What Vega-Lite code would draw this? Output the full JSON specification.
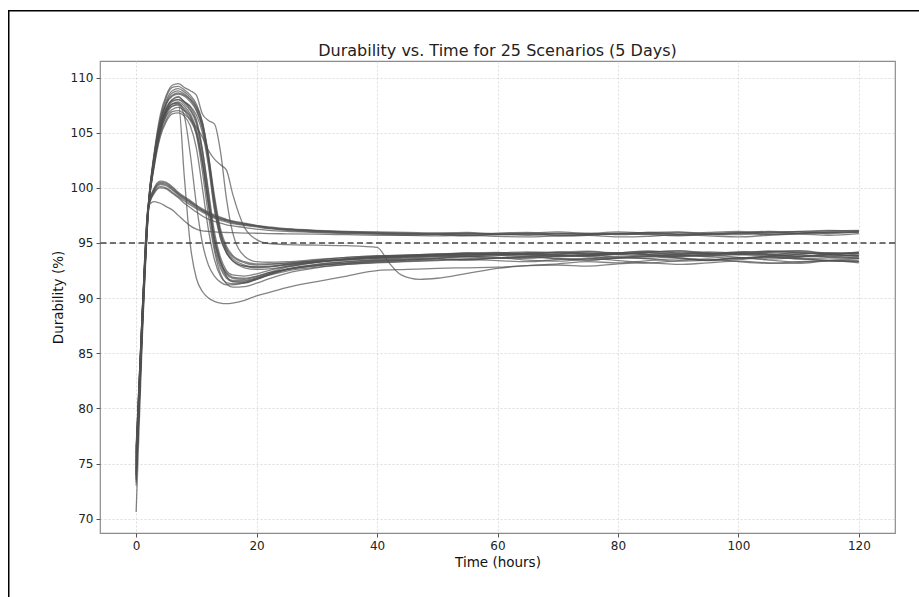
{
"$schema":"https://vega.github.io/schema/vega-lite/v6.json",
"width":795,"height":472,
"autosize":{"type":"none"},
"padding":{"left":100,"top":61,"right":24,"bottom":64},
"background":"white",
"config":{"font":"DejaVu Sans","view":{"stroke":"#8c8c8c","strokeWidth":1.2},
"axis":{"grid":true,"gridColor":"#d4d4d4","gridDash":[2,2],"gridWidth":0.8,"domain":false,"tickColor":"#555555","tickSize":4,"labelFontSize":12,"labelColor":"#222222","titleFontSize":13.5,"titleFontWeight":"normal","titleColor":"#111111","labelPadding":3},
"title":{"fontSize":16,"fontWeight":"normal","color":"#222222","offset":-49.4,"anchor":"middle"}},
"title":"Durability vs. Time for 25 Scenarios (5 Days)",
"datasets":{"curves":[
{"s":"A1","t":0,"v":74.5},{"s":"A1","t":1,"v":88},{"s":"A1","t":2,"v":98.4},{"s":"A1","t":3,"v":103.2},{"s":"A1","t":4,"v":106.6},{"s":"A1","t":5,"v":108.4},{"s":"A1","t":6,"v":109.3},{"s":"A1","t":7,"v":109.45},{"s":"A1","t":8,"v":109.1},{"s":"A1","t":9,"v":108.8},{"s":"A1","t":10,"v":108.4},{"s":"A1","t":11,"v":106.7},{"s":"A1","t":12,"v":106.1},{"s":"A1","t":13,"v":105.8},{"s":"A1","t":14,"v":103.3},{"s":"A1","t":15,"v":99},{"s":"A1","t":16,"v":96},{"s":"A1","t":18,"v":93.8},{"s":"A1","t":20,"v":93.3},{"s":"A1","t":22,"v":93.25},{"s":"A1","t":25,"v":93.3},{"s":"A1","t":30,"v":93.5},{"s":"A1","t":35,"v":93.7},{"s":"A1","t":40,"v":93.8},{"s":"A1","t":45,"v":93.9},{"s":"A1","t":50,"v":93.95},{"s":"A1","t":55,"v":94.1},{"s":"A1","t":60,"v":94.15},{"s":"A1","t":65,"v":94},{"s":"A1","t":70,"v":94.15},{"s":"A1","t":75,"v":94.25},{"s":"A1","t":80,"v":94.05},{"s":"A1","t":85,"v":94.15},{"s":"A1","t":90,"v":94.3},{"s":"A1","t":95,"v":94.1},{"s":"A1","t":100,"v":94},{"s":"A1","t":105,"v":94.2},{"s":"A1","t":110,"v":94.3},{"s":"A1","t":115,"v":94.1},{"s":"A1","t":120,"v":94.1},
{"s":"A2","t":0,"v":74},{"s":"A2","t":1,"v":87.5},{"s":"A2","t":2,"v":98.1},{"s":"A2","t":3,"v":103},{"s":"A2","t":4,"v":106.3},{"s":"A2","t":5,"v":108.2},{"s":"A2","t":6,"v":109.1},{"s":"A2","t":7,"v":109.2},{"s":"A2","t":8,"v":108.9},{"s":"A2","t":9,"v":108.4},{"s":"A2","t":10,"v":107.6},{"s":"A2","t":11,"v":106},{"s":"A2","t":12,"v":103},{"s":"A2","t":13,"v":99},{"s":"A2","t":14,"v":96},{"s":"A2","t":15,"v":94.5},{"s":"A2","t":16,"v":93.8},{"s":"A2","t":18,"v":93.2},{"s":"A2","t":20,"v":93},{"s":"A2","t":22,"v":93.05},{"s":"A2","t":25,"v":93.15},{"s":"A2","t":30,"v":93.35},{"s":"A2","t":35,"v":93.5},{"s":"A2","t":40,"v":93.6},{"s":"A2","t":45,"v":93.7},{"s":"A2","t":50,"v":93.8},{"s":"A2","t":55,"v":93.85},{"s":"A2","t":60,"v":93.95},{"s":"A2","t":65,"v":94},{"s":"A2","t":70,"v":93.9},{"s":"A2","t":75,"v":93.85},{"s":"A2","t":80,"v":94},{"s":"A2","t":85,"v":94.1},{"s":"A2","t":90,"v":93.95},{"s":"A2","t":95,"v":93.8},{"s":"A2","t":100,"v":93.95},{"s":"A2","t":105,"v":94.1},{"s":"A2","t":110,"v":93.95},{"s":"A2","t":115,"v":93.8},{"s":"A2","t":120,"v":93.9},
{"s":"A3","t":0,"v":75},{"s":"A3","t":1,"v":88},{"s":"A3","t":2,"v":98.3},{"s":"A3","t":3,"v":102.8},{"s":"A3","t":4,"v":105.9},{"s":"A3","t":5,"v":107.7},{"s":"A3","t":6,"v":108.6},{"s":"A3","t":7,"v":108.8},{"s":"A3","t":8,"v":108.5},{"s":"A3","t":9,"v":108},{"s":"A3","t":10,"v":107.1},{"s":"A3","t":11,"v":105.4},{"s":"A3","t":12,"v":102.3},{"s":"A3","t":13,"v":98.2},{"s":"A3","t":14,"v":95.4},{"s":"A3","t":15,"v":94.1},{"s":"A3","t":16,"v":93.4},{"s":"A3","t":18,"v":92.9},{"s":"A3","t":20,"v":92.75},{"s":"A3","t":22,"v":92.8},{"s":"A3","t":25,"v":93},{"s":"A3","t":30,"v":93.25},{"s":"A3","t":35,"v":93.45},{"s":"A3","t":40,"v":93.6},{"s":"A3","t":45,"v":93.75},{"s":"A3","t":50,"v":93.8},{"s":"A3","t":55,"v":93.9},{"s":"A3","t":60,"v":94},{"s":"A3","t":65,"v":93.9},{"s":"A3","t":70,"v":93.8},{"s":"A3","t":75,"v":93.95},{"s":"A3","t":80,"v":94.1},{"s":"A3","t":85,"v":93.95},{"s":"A3","t":90,"v":93.8},{"s":"A3","t":95,"v":93.95},{"s":"A3","t":100,"v":94.1},{"s":"A3","t":105,"v":93.95},{"s":"A3","t":110,"v":93.75},{"s":"A3","t":115,"v":93.9},{"s":"A3","t":120,"v":93.8},
{"s":"A4","t":0,"v":73.5},{"s":"A4","t":1,"v":87},{"s":"A4","t":2,"v":97.8},{"s":"A4","t":3,"v":102.5},{"s":"A4","t":4,"v":105.5},{"s":"A4","t":5,"v":107.2},{"s":"A4","t":6,"v":108},{"s":"A4","t":7,"v":108.3},{"s":"A4","t":8,"v":107.8},{"s":"A4","t":9,"v":107.3},{"s":"A4","t":10,"v":106.2},{"s":"A4","t":11,"v":103.5},{"s":"A4","t":12,"v":99.5},{"s":"A4","t":13,"v":95.3},{"s":"A4","t":14,"v":93.3},{"s":"A4","t":15,"v":92.2},{"s":"A4","t":16,"v":91.8},{"s":"A4","t":18,"v":91.7},{"s":"A4","t":20,"v":91.95},{"s":"A4","t":22,"v":92.3},{"s":"A4","t":25,"v":92.8},{"s":"A4","t":30,"v":93.25},{"s":"A4","t":35,"v":93.55},{"s":"A4","t":40,"v":93.7},{"s":"A4","t":45,"v":93.8},{"s":"A4","t":50,"v":93.9},{"s":"A4","t":55,"v":94},{"s":"A4","t":60,"v":94.1},{"s":"A4","t":65,"v":93.95},{"s":"A4","t":70,"v":94},{"s":"A4","t":75,"v":94.2},{"s":"A4","t":80,"v":94.1},{"s":"A4","t":85,"v":93.95},{"s":"A4","t":90,"v":94.05},{"s":"A4","t":95,"v":94.2},{"s":"A4","t":100,"v":94.05},{"s":"A4","t":105,"v":93.9},{"s":"A4","t":110,"v":94.1},{"s":"A4","t":115,"v":94},{"s":"A4","t":120,"v":93.85},
{"s":"A5","t":0,"v":76},{"s":"A5","t":1,"v":88.5},{"s":"A5","t":2,"v":98.2},{"s":"A5","t":3,"v":102.6},{"s":"A5","t":4,"v":105.4},{"s":"A5","t":5,"v":107},{"s":"A5","t":6,"v":107.8},{"s":"A5","t":7,"v":108},{"s":"A5","t":8,"v":107.6},{"s":"A5","t":9,"v":107},{"s":"A5","t":10,"v":105.8},{"s":"A5","t":11,"v":103},{"s":"A5","t":12,"v":99},{"s":"A5","t":13,"v":95},{"s":"A5","t":14,"v":93},{"s":"A5","t":15,"v":91.95},{"s":"A5","t":16,"v":91.6},{"s":"A5","t":18,"v":91.6},{"s":"A5","t":20,"v":91.85},{"s":"A5","t":22,"v":92.2},{"s":"A5","t":25,"v":92.6},{"s":"A5","t":30,"v":93.05},{"s":"A5","t":35,"v":93.3},{"s":"A5","t":40,"v":93.5},{"s":"A5","t":45,"v":93.65},{"s":"A5","t":50,"v":93.75},{"s":"A5","t":55,"v":93.75},{"s":"A5","t":60,"v":93.85},{"s":"A5","t":65,"v":93.95},{"s":"A5","t":70,"v":93.75},{"s":"A5","t":75,"v":93.85},{"s":"A5","t":80,"v":94.05},{"s":"A5","t":85,"v":93.95},{"s":"A5","t":90,"v":93.75},{"s":"A5","t":95,"v":93.85},{"s":"A5","t":100,"v":94.05},{"s":"A5","t":105,"v":93.9},{"s":"A5","t":110,"v":93.75},{"s":"A5","t":115,"v":93.95},{"s":"A5","t":120,"v":93.75},
{"s":"A6","t":0,"v":74.8},{"s":"A6","t":1,"v":87.8},{"s":"A6","t":2,"v":98},{"s":"A6","t":3,"v":102.4},{"s":"A6","t":4,"v":105.2},{"s":"A6","t":5,"v":106.8},{"s":"A6","t":6,"v":107.6},{"s":"A6","t":7,"v":107.8},{"s":"A6","t":8,"v":107.4},{"s":"A6","t":9,"v":106.7},{"s":"A6","t":10,"v":105.3},{"s":"A6","t":11,"v":102.4},{"s":"A6","t":12,"v":98.4},{"s":"A6","t":13,"v":94.6},{"s":"A6","t":14,"v":92.7},{"s":"A6","t":15,"v":91.8},{"s":"A6","t":16,"v":91.5},{"s":"A6","t":18,"v":91.5},{"s":"A6","t":20,"v":91.75},{"s":"A6","t":22,"v":92.1},{"s":"A6","t":25,"v":92.55},{"s":"A6","t":30,"v":92.95},{"s":"A6","t":35,"v":93.2},{"s":"A6","t":40,"v":93.4},{"s":"A6","t":45,"v":93.5},{"s":"A6","t":50,"v":93.6},{"s":"A6","t":55,"v":93.8},{"s":"A6","t":60,"v":93.7},{"s":"A6","t":65,"v":93.6},{"s":"A6","t":70,"v":93.8},{"s":"A6","t":75,"v":93.9},{"s":"A6","t":80,"v":93.7},{"s":"A6","t":85,"v":93.6},{"s":"A6","t":90,"v":93.8},{"s":"A6","t":95,"v":93.9},{"s":"A6","t":100,"v":93.7},{"s":"A6","t":105,"v":93.55},{"s":"A6","t":110,"v":93.7},{"s":"A6","t":115,"v":93.8},{"s":"A6","t":120,"v":93.6},
{"s":"A7","t":0,"v":73},{"s":"A7","t":1,"v":86.5},{"s":"A7","t":2,"v":97.6},{"s":"A7","t":3,"v":102.2},{"s":"A7","t":4,"v":105},{"s":"A7","t":5,"v":106.5},{"s":"A7","t":6,"v":107.1},{"s":"A7","t":7,"v":107.3},{"s":"A7","t":8,"v":107},{"s":"A7","t":9,"v":106.4},{"s":"A7","t":10,"v":104.8},{"s":"A7","t":11,"v":101.5},{"s":"A7","t":12,"v":97.5},{"s":"A7","t":13,"v":94.3},{"s":"A7","t":14,"v":92.2},{"s":"A7","t":15,"v":91.3},{"s":"A7","t":16,"v":91},{"s":"A7","t":18,"v":91.05},{"s":"A7","t":20,"v":91.35},{"s":"A7","t":22,"v":91.75},{"s":"A7","t":25,"v":92.25},{"s":"A7","t":30,"v":92.75},{"s":"A7","t":35,"v":93.05},{"s":"A7","t":40,"v":93.25},{"s":"A7","t":45,"v":93.35},{"s":"A7","t":50,"v":93.45},{"s":"A7","t":55,"v":93.55},{"s":"A7","t":60,"v":93.65},{"s":"A7","t":65,"v":93.45},{"s":"A7","t":70,"v":93.35},{"s":"A7","t":75,"v":93.55},{"s":"A7","t":80,"v":93.75},{"s":"A7","t":85,"v":93.55},{"s":"A7","t":90,"v":93.35},{"s":"A7","t":95,"v":93.45},{"s":"A7","t":100,"v":93.65},{"s":"A7","t":105,"v":93.45},{"s":"A7","t":110,"v":93.25},{"s":"A7","t":115,"v":93.4},{"s":"A7","t":120,"v":93.3},
{"s":"A8","t":0,"v":75.5},{"s":"A8","t":1,"v":88},{"s":"A8","t":2,"v":97.9},{"s":"A8","t":3,"v":102},{"s":"A8","t":4,"v":104.8},{"s":"A8","t":5,"v":106.2},{"s":"A8","t":6,"v":106.9},{"s":"A8","t":7,"v":107},{"s":"A8","t":8,"v":106.7},{"s":"A8","t":9,"v":106.1},{"s":"A8","t":10,"v":104.9},{"s":"A8","t":11,"v":102.2},{"s":"A8","t":12,"v":98.5},{"s":"A8","t":13,"v":95.3},{"s":"A8","t":14,"v":93.3},{"s":"A8","t":15,"v":92.3},{"s":"A8","t":16,"v":91.9},{"s":"A8","t":18,"v":91.8},{"s":"A8","t":20,"v":92},{"s":"A8","t":22,"v":92.3},{"s":"A8","t":25,"v":92.6},{"s":"A8","t":30,"v":92.95},{"s":"A8","t":35,"v":93.15},{"s":"A8","t":40,"v":93.35},{"s":"A8","t":45,"v":93.45},{"s":"A8","t":50,"v":93.55},{"s":"A8","t":55,"v":93.45},{"s":"A8","t":60,"v":93.65},{"s":"A8","t":65,"v":93.75},{"s":"A8","t":70,"v":93.55},{"s":"A8","t":75,"v":93.45},{"s":"A8","t":80,"v":93.65},{"s":"A8","t":85,"v":93.85},{"s":"A8","t":90,"v":93.65},{"s":"A8","t":95,"v":93.45},{"s":"A8","t":100,"v":93.65},{"s":"A8","t":105,"v":93.75},{"s":"A8","t":110,"v":93.55},{"s":"A8","t":115,"v":93.45},{"s":"A8","t":120,"v":93.55},
{"s":"A9","t":0,"v":74.2},{"s":"A9","t":1,"v":87.2},{"s":"A9","t":2,"v":97.7},{"s":"A9","t":3,"v":101.9},{"s":"A9","t":4,"v":104.6},{"s":"A9","t":5,"v":106},{"s":"A9","t":6,"v":106.7},{"s":"A9","t":7,"v":106.8},{"s":"A9","t":8,"v":106.5},{"s":"A9","t":9,"v":105.6},{"s":"A9","t":10,"v":103.6},{"s":"A9","t":11,"v":100},{"s":"A9","t":12,"v":96.2},{"s":"A9","t":13,"v":93.5},{"s":"A9","t":14,"v":92},{"s":"A9","t":15,"v":91.4},{"s":"A9","t":16,"v":91.3},{"s":"A9","t":18,"v":91.35},{"s":"A9","t":20,"v":91.7},{"s":"A9","t":22,"v":92.05},{"s":"A9","t":25,"v":92.45},{"s":"A9","t":30,"v":92.8},{"s":"A9","t":35,"v":93.05},{"s":"A9","t":40,"v":93.2},{"s":"A9","t":45,"v":93.3},{"s":"A9","t":50,"v":93.4},{"s":"A9","t":55,"v":93.5},{"s":"A9","t":60,"v":93.4},{"s":"A9","t":65,"v":93.3},{"s":"A9","t":70,"v":93.5},{"s":"A9","t":75,"v":93.6},{"s":"A9","t":80,"v":93.4},{"s":"A9","t":85,"v":93.2},{"s":"A9","t":90,"v":93.4},{"s":"A9","t":95,"v":93.55},{"s":"A9","t":100,"v":93.3},{"s":"A9","t":105,"v":93.15},{"s":"A9","t":110,"v":93.3},{"s":"A9","t":115,"v":93.4},{"s":"A9","t":120,"v":93.2},
{"s":"A10","t":0,"v":75.2},{"s":"A10","t":1,"v":88.2},{"s":"A10","t":2,"v":98.1},{"s":"A10","t":3,"v":102.9},{"s":"A10","t":4,"v":105.9},{"s":"A10","t":5,"v":107.6},{"s":"A10","t":6,"v":108.3},{"s":"A10","t":7,"v":108.5},{"s":"A10","t":8,"v":108.3},{"s":"A10","t":9,"v":107.8},{"s":"A10","t":10,"v":107},{"s":"A10","t":11,"v":105.5},{"s":"A10","t":12,"v":102.6},{"s":"A10","t":13,"v":98.6},{"s":"A10","t":14,"v":95.8},{"s":"A10","t":15,"v":94.2},{"s":"A10","t":16,"v":93.4},{"s":"A10","t":18,"v":92.75},{"s":"A10","t":20,"v":92.6},{"s":"A10","t":22,"v":92.65},{"s":"A10","t":25,"v":92.85},{"s":"A10","t":30,"v":93.25},{"s":"A10","t":35,"v":93.55},{"s":"A10","t":40,"v":93.8},{"s":"A10","t":45,"v":93.9},{"s":"A10","t":50,"v":94},{"s":"A10","t":55,"v":94.1},{"s":"A10","t":60,"v":94},{"s":"A10","t":65,"v":94.1},{"s":"A10","t":70,"v":94.2},{"s":"A10","t":75,"v":94},{"s":"A10","t":80,"v":94.1},{"s":"A10","t":85,"v":94.25},{"s":"A10","t":90,"v":94.1},{"s":"A10","t":95,"v":94},{"s":"A10","t":100,"v":94.15},{"s":"A10","t":105,"v":94.25},{"s":"A10","t":110,"v":94.1},{"s":"A10","t":115,"v":94},{"s":"A10","t":120,"v":94.15},
{"s":"A11","t":0,"v":73.8},{"s":"A11","t":1,"v":87.3},{"s":"A11","t":2,"v":97.9},{"s":"A11","t":3,"v":102.5},{"s":"A11","t":4,"v":105.4},{"s":"A11","t":5,"v":107.1},{"s":"A11","t":6,"v":107.9},{"s":"A11","t":7,"v":108},{"s":"A11","t":8,"v":107.8},{"s":"A11","t":9,"v":107.4},{"s":"A11","t":10,"v":106.6},{"s":"A11","t":11,"v":105},{"s":"A11","t":12,"v":102},{"s":"A11","t":13,"v":98},{"s":"A11","t":14,"v":95.5},{"s":"A11","t":15,"v":94.1},{"s":"A11","t":16,"v":93.4},{"s":"A11","t":18,"v":92.9},{"s":"A11","t":20,"v":92.85},{"s":"A11","t":22,"v":92.9},{"s":"A11","t":25,"v":93.05},{"s":"A11","t":30,"v":93.3},{"s":"A11","t":35,"v":93.5},{"s":"A11","t":40,"v":93.7},{"s":"A11","t":45,"v":93.8},{"s":"A11","t":50,"v":93.9},{"s":"A11","t":55,"v":93.8},{"s":"A11","t":60,"v":94},{"s":"A11","t":65,"v":94.1},{"s":"A11","t":70,"v":93.9},{"s":"A11","t":75,"v":93.8},{"s":"A11","t":80,"v":94},{"s":"A11","t":85,"v":94.1},{"s":"A11","t":90,"v":93.9},{"s":"A11","t":95,"v":94},{"s":"A11","t":100,"v":94.2},{"s":"A11","t":105,"v":94},{"s":"A11","t":110,"v":93.8},{"s":"A11","t":115,"v":94},{"s":"A11","t":120,"v":94.05},
{"s":"A12","t":0,"v":76.3},{"s":"A12","t":1,"v":88.7},{"s":"A12","t":2,"v":98.3},{"s":"A12","t":3,"v":102.7},{"s":"A12","t":4,"v":105.6},{"s":"A12","t":5,"v":107.3},{"s":"A12","t":6,"v":108},{"s":"A12","t":7,"v":108.2},{"s":"A12","t":8,"v":107.8},{"s":"A12","t":9,"v":107.1},{"s":"A12","t":10,"v":106},{"s":"A12","t":11,"v":103.4},{"s":"A12","t":12,"v":99.8},{"s":"A12","t":13,"v":96},{"s":"A12","t":14,"v":93.7},{"s":"A12","t":15,"v":92.5},{"s":"A12","t":16,"v":92.1},{"s":"A12","t":18,"v":92},{"s":"A12","t":20,"v":92.2},{"s":"A12","t":22,"v":92.5},{"s":"A12","t":25,"v":92.9},{"s":"A12","t":30,"v":93.3},{"s":"A12","t":35,"v":93.55},{"s":"A12","t":40,"v":93.75},{"s":"A12","t":45,"v":93.85},{"s":"A12","t":50,"v":93.95},{"s":"A12","t":55,"v":94.05},{"s":"A12","t":60,"v":93.95},{"s":"A12","t":65,"v":94.05},{"s":"A12","t":70,"v":94.15},{"s":"A12","t":75,"v":94.05},{"s":"A12","t":80,"v":93.95},{"s":"A12","t":85,"v":94.15},{"s":"A12","t":90,"v":94.25},{"s":"A12","t":95,"v":94.05},{"s":"A12","t":100,"v":93.95},{"s":"A12","t":105,"v":94.15},{"s":"A12","t":110,"v":94.25},{"s":"A12","t":115,"v":94.05},{"s":"A12","t":120,"v":94.05},
{"s":"A13","t":0,"v":74.6},{"s":"A13","t":1,"v":87.6},{"s":"A13","t":2,"v":97.9},{"s":"A13","t":3,"v":102.3},{"s":"A13","t":4,"v":105.2},{"s":"A13","t":5,"v":106.8},{"s":"A13","t":6,"v":107.4},{"s":"A13","t":7,"v":107.5},{"s":"A13","t":8,"v":106.5},{"s":"A13","t":9,"v":103},{"s":"A13","t":10,"v":98.5},{"s":"A13","t":11,"v":95},{"s":"A13","t":12,"v":93},{"s":"A13","t":13,"v":92},{"s":"A13","t":14,"v":91.45},{"s":"A13","t":15,"v":91.2},{"s":"A13","t":16,"v":91.2},{"s":"A13","t":18,"v":91.4},{"s":"A13","t":20,"v":91.8},{"s":"A13","t":22,"v":92.2},{"s":"A13","t":25,"v":92.65},{"s":"A13","t":30,"v":93.05},{"s":"A13","t":35,"v":93.3},{"s":"A13","t":40,"v":93.45},{"s":"A13","t":45,"v":93.55},{"s":"A13","t":50,"v":93.65},{"s":"A13","t":55,"v":93.75},{"s":"A13","t":60,"v":93.6},{"s":"A13","t":65,"v":93.7},{"s":"A13","t":70,"v":93.85},{"s":"A13","t":75,"v":93.75},{"s":"A13","t":80,"v":93.6},{"s":"A13","t":85,"v":93.75},{"s":"A13","t":90,"v":93.9},{"s":"A13","t":95,"v":93.75},{"s":"A13","t":100,"v":93.6},{"s":"A13","t":105,"v":93.8},{"s":"A13","t":110,"v":93.9},{"s":"A13","t":115,"v":93.7},{"s":"A13","t":120,"v":93.65},
{"s":"A14","t":0,"v":73.3},{"s":"A14","t":1,"v":86.8},{"s":"A14","t":2,"v":97.8},{"s":"A14","t":3,"v":102.7},{"s":"A14","t":4,"v":105.8},{"s":"A14","t":5,"v":107.6},{"s":"A14","t":6,"v":108.4},{"s":"A14","t":7,"v":108.6},{"s":"A14","t":8,"v":108.4},{"s":"A14","t":9,"v":108},{"s":"A14","t":10,"v":107.3},{"s":"A14","t":11,"v":105.8},{"s":"A14","t":12,"v":103},{"s":"A14","t":13,"v":99.3},{"s":"A14","t":14,"v":96.3},{"s":"A14","t":15,"v":94.7},{"s":"A14","t":16,"v":93.9},{"s":"A14","t":18,"v":93.3},{"s":"A14","t":20,"v":93.1},{"s":"A14","t":22,"v":93.1},{"s":"A14","t":25,"v":93.2},{"s":"A14","t":30,"v":93.4},{"s":"A14","t":35,"v":93.55},{"s":"A14","t":40,"v":93.7},{"s":"A14","t":45,"v":93.8},{"s":"A14","t":50,"v":93.9},{"s":"A14","t":55,"v":94},{"s":"A14","t":60,"v":93.9},{"s":"A14","t":65,"v":93.8},{"s":"A14","t":70,"v":93.95},{"s":"A14","t":75,"v":94.1},{"s":"A14","t":80,"v":93.95},{"s":"A14","t":85,"v":93.8},{"s":"A14","t":90,"v":93.95},{"s":"A14","t":95,"v":94.1},{"s":"A14","t":100,"v":93.95},{"s":"A14","t":105,"v":93.8},{"s":"A14","t":110,"v":94},{"s":"A14","t":115,"v":94.1},{"s":"A14","t":120,"v":93.9},
{"s":"A15","t":0,"v":75.8},{"s":"A15","t":1,"v":88.3},{"s":"A15","t":2,"v":98},{"s":"A15","t":3,"v":102.3},{"s":"A15","t":4,"v":105.1},{"s":"A15","t":5,"v":106.6},{"s":"A15","t":6,"v":107.4},{"s":"A15","t":7,"v":107.6},{"s":"A15","t":8,"v":107.2},{"s":"A15","t":9,"v":106.5},{"s":"A15","t":10,"v":105.1},{"s":"A15","t":11,"v":102.4},{"s":"A15","t":12,"v":98.8},{"s":"A15","t":13,"v":95.6},{"s":"A15","t":14,"v":93.4},{"s":"A15","t":15,"v":92},{"s":"A15","t":16,"v":91.5},{"s":"A15","t":18,"v":91.4},{"s":"A15","t":20,"v":91.7},{"s":"A15","t":22,"v":92.1},{"s":"A15","t":25,"v":92.6},{"s":"A15","t":30,"v":92.95},{"s":"A15","t":35,"v":93.15},{"s":"A15","t":40,"v":93.3},{"s":"A15","t":45,"v":93.45},{"s":"A15","t":50,"v":93.55},{"s":"A15","t":55,"v":93.5},{"s":"A15","t":60,"v":93.65},{"s":"A15","t":65,"v":93.75},{"s":"A15","t":70,"v":93.6},{"s":"A15","t":75,"v":93.45},{"s":"A15","t":80,"v":93.65},{"s":"A15","t":85,"v":93.8},{"s":"A15","t":90,"v":93.65},{"s":"A15","t":95,"v":93.45},{"s":"A15","t":100,"v":93.65},{"s":"A15","t":105,"v":93.75},{"s":"A15","t":110,"v":93.6},{"s":"A15","t":115,"v":93.4},{"s":"A15","t":120,"v":93.4},
{"s":"A16","t":0,"v":75.6},{"s":"A16","t":1,"v":88.4},{"s":"A16","t":2,"v":98.3},{"s":"A16","t":3,"v":103},{"s":"A16","t":4,"v":106.1},{"s":"A16","t":5,"v":107.9},{"s":"A16","t":6,"v":108.8},{"s":"A16","t":7,"v":109},{"s":"A16","t":8,"v":108.7},{"s":"A16","t":9,"v":108.2},{"s":"A16","t":10,"v":107.4},{"s":"A16","t":11,"v":105.9},{"s":"A16","t":12,"v":102.8},{"s":"A16","t":13,"v":98.8},{"s":"A16","t":14,"v":95.9},{"s":"A16","t":15,"v":94.4},{"s":"A16","t":16,"v":93.6},{"s":"A16","t":18,"v":93},{"s":"A16","t":20,"v":92.8},{"s":"A16","t":22,"v":92.85},{"s":"A16","t":25,"v":93.05},{"s":"A16","t":30,"v":93.45},{"s":"A16","t":35,"v":93.7},{"s":"A16","t":40,"v":93.85},{"s":"A16","t":45,"v":93.9},{"s":"A16","t":50,"v":94},{"s":"A16","t":55,"v":93.95},{"s":"A16","t":60,"v":94.1},{"s":"A16","t":65,"v":94.2},{"s":"A16","t":70,"v":94.05},{"s":"A16","t":75,"v":93.95},{"s":"A16","t":80,"v":94.1},{"s":"A16","t":85,"v":94.25},{"s":"A16","t":90,"v":94.1},{"s":"A16","t":95,"v":94},{"s":"A16","t":100,"v":94.15},{"s":"A16","t":105,"v":94.25},{"s":"A16","t":110,"v":94.15},{"s":"A16","t":115,"v":94},{"s":"A16","t":120,"v":94.2},
{"s":"S1","t":0,"v":70.6},{"s":"S1","t":1,"v":86},{"s":"S1","t":2,"v":97.5},{"s":"S1","t":3,"v":102.3},{"s":"S1","t":4,"v":105.3},{"s":"S1","t":5,"v":106.9},{"s":"S1","t":6,"v":107.6},{"s":"S1","t":7,"v":107.7},{"s":"S1","t":8,"v":101},{"s":"S1","t":9,"v":94.8},{"s":"S1","t":10,"v":91.8},{"s":"S1","t":11,"v":90.6},{"s":"S1","t":12,"v":90},{"s":"S1","t":13,"v":89.7},{"s":"S1","t":14,"v":89.55},{"s":"S1","t":15,"v":89.5},{"s":"S1","t":16,"v":89.55},{"s":"S1","t":18,"v":89.8},{"s":"S1","t":20,"v":90.2},{"s":"S1","t":22,"v":90.5},{"s":"S1","t":25,"v":90.95},{"s":"S1","t":30,"v":91.5},{"s":"S1","t":35,"v":92},{"s":"S1","t":40,"v":92.5},{"s":"S1","t":45,"v":92.6},{"s":"S1","t":50,"v":92.7},{"s":"S1","t":55,"v":92.75},{"s":"S1","t":60,"v":92.8},{"s":"S1","t":65,"v":92.95},{"s":"S1","t":70,"v":93},{"s":"S1","t":75,"v":92.9},{"s":"S1","t":80,"v":93.1},{"s":"S1","t":85,"v":93.2},{"s":"S1","t":90,"v":93.05},{"s":"S1","t":95,"v":93.2},{"s":"S1","t":100,"v":93.35},{"s":"S1","t":105,"v":93.2},{"s":"S1","t":110,"v":93.15},{"s":"S1","t":115,"v":93.35},{"s":"S1","t":120,"v":93.3},
{"s":"S3","t":0,"v":74},{"s":"S3","t":1,"v":87.5},{"s":"S3","t":2,"v":98},{"s":"S3","t":3,"v":102.5},{"s":"S3","t":4,"v":105.4},{"s":"S3","t":5,"v":107},{"s":"S3","t":6,"v":107.6},{"s":"S3","t":7,"v":107.7},{"s":"S3","t":8,"v":107},{"s":"S3","t":9,"v":106.2},{"s":"S3","t":10,"v":105.5},{"s":"S3","t":11,"v":104.6},{"s":"S3","t":12,"v":103.4},{"s":"S3","t":13,"v":102.6},{"s":"S3","t":14,"v":102.1},{"s":"S3","t":15,"v":101.6},{"s":"S3","t":16,"v":99.5},{"s":"S3","t":18,"v":96.4},{"s":"S3","t":20,"v":95.3},{"s":"S3","t":22,"v":94.95},{"s":"S3","t":25,"v":94.85},{"s":"S3","t":30,"v":94.8},{"s":"S3","t":35,"v":94.75},{"s":"S3","t":40,"v":94.6},{"s":"S3","t":42,"v":93.2},{"s":"S3","t":44,"v":92.1},{"s":"S3","t":47,"v":91.7},{"s":"S3","t":50,"v":91.8},{"s":"S3","t":55,"v":92.25},{"s":"S3","t":60,"v":92.7},{"s":"S3","t":65,"v":92.95},{"s":"S3","t":70,"v":93.1},{"s":"S3","t":75,"v":93.3},{"s":"S3","t":80,"v":93.2},{"s":"S3","t":85,"v":93.4},{"s":"S3","t":90,"v":93.55},{"s":"S3","t":95,"v":93.4},{"s":"S3","t":100,"v":93.5},{"s":"S3","t":105,"v":93.7},{"s":"S3","t":110,"v":93.55},{"s":"S3","t":115,"v":93.65},{"s":"S3","t":120,"v":93.6},
{"s":"B1","t":0,"v":75.2},{"s":"B1","t":1,"v":88.3},{"s":"B1","t":2,"v":98.3},{"s":"B1","t":3,"v":100},{"s":"B1","t":4,"v":100.6},{"s":"B1","t":5,"v":100.5},{"s":"B1","t":6,"v":100.1},{"s":"B1","t":7,"v":99.6},{"s":"B1","t":8,"v":99.2},{"s":"B1","t":9,"v":98.85},{"s":"B1","t":10,"v":98.45},{"s":"B1","t":11,"v":98.1},{"s":"B1","t":12,"v":97.8},{"s":"B1","t":13,"v":97.55},{"s":"B1","t":14,"v":97.35},{"s":"B1","t":15,"v":97.15},{"s":"B1","t":16,"v":97},{"s":"B1","t":18,"v":96.8},{"s":"B1","t":20,"v":96.6},{"s":"B1","t":22,"v":96.45},{"s":"B1","t":25,"v":96.3},{"s":"B1","t":30,"v":96.15},{"s":"B1","t":35,"v":96.05},{"s":"B1","t":40,"v":96},{"s":"B1","t":45,"v":95.95},{"s":"B1","t":50,"v":95.9},{"s":"B1","t":55,"v":95.95},{"s":"B1","t":60,"v":95.85},{"s":"B1","t":65,"v":95.9},{"s":"B1","t":70,"v":96},{"s":"B1","t":75,"v":95.85},{"s":"B1","t":80,"v":95.8},{"s":"B1","t":85,"v":95.95},{"s":"B1","t":90,"v":96},{"s":"B1","t":95,"v":95.85},{"s":"B1","t":100,"v":95.9},{"s":"B1","t":105,"v":96.05},{"s":"B1","t":110,"v":96},{"s":"B1","t":115,"v":96.1},{"s":"B1","t":120,"v":96.15},
{"s":"B2","t":0,"v":74.3},{"s":"B2","t":1,"v":87.6},{"s":"B2","t":2,"v":98.2},{"s":"B2","t":3,"v":99.9},{"s":"B2","t":4,"v":100.5},{"s":"B2","t":5,"v":100.4},{"s":"B2","t":6,"v":100},{"s":"B2","t":7,"v":99.5},{"s":"B2","t":8,"v":99.1},{"s":"B2","t":9,"v":98.75},{"s":"B2","t":10,"v":98.35},{"s":"B2","t":11,"v":98},{"s":"B2","t":12,"v":97.7},{"s":"B2","t":13,"v":97.45},{"s":"B2","t":14,"v":97.25},{"s":"B2","t":15,"v":97.1},{"s":"B2","t":16,"v":96.95},{"s":"B2","t":18,"v":96.75},{"s":"B2","t":20,"v":96.55},{"s":"B2","t":22,"v":96.4},{"s":"B2","t":25,"v":96.25},{"s":"B2","t":30,"v":96.1},{"s":"B2","t":35,"v":96},{"s":"B2","t":40,"v":95.95},{"s":"B2","t":45,"v":95.85},{"s":"B2","t":50,"v":95.9},{"s":"B2","t":55,"v":95.8},{"s":"B2","t":60,"v":95.9},{"s":"B2","t":65,"v":95.95},{"s":"B2","t":70,"v":95.8},{"s":"B2","t":75,"v":95.85},{"s":"B2","t":80,"v":96},{"s":"B2","t":85,"v":95.9},{"s":"B2","t":90,"v":95.8},{"s":"B2","t":95,"v":95.95},{"s":"B2","t":100,"v":96.05},{"s":"B2","t":105,"v":95.9},{"s":"B2","t":110,"v":96.05},{"s":"B2","t":115,"v":96.15},{"s":"B2","t":120,"v":96.1},
{"s":"B3","t":0,"v":73.6},{"s":"B3","t":1,"v":87.1},{"s":"B3","t":2,"v":98},{"s":"B3","t":3,"v":99.7},{"s":"B3","t":4,"v":100.3},{"s":"B3","t":5,"v":100.2},{"s":"B3","t":6,"v":99.8},{"s":"B3","t":7,"v":99.35},{"s":"B3","t":8,"v":98.95},{"s":"B3","t":9,"v":98.6},{"s":"B3","t":10,"v":98.2},{"s":"B3","t":11,"v":97.9},{"s":"B3","t":12,"v":97.6},{"s":"B3","t":13,"v":97.35},{"s":"B3","t":14,"v":97.15},{"s":"B3","t":15,"v":97},{"s":"B3","t":16,"v":96.85},{"s":"B3","t":18,"v":96.65},{"s":"B3","t":20,"v":96.5},{"s":"B3","t":22,"v":96.35},{"s":"B3","t":25,"v":96.2},{"s":"B3","t":30,"v":96.05},{"s":"B3","t":35,"v":95.95},{"s":"B3","t":40,"v":95.9},{"s":"B3","t":45,"v":95.85},{"s":"B3","t":50,"v":95.8},{"s":"B3","t":55,"v":95.9},{"s":"B3","t":60,"v":95.75},{"s":"B3","t":65,"v":95.8},{"s":"B3","t":70,"v":95.9},{"s":"B3","t":75,"v":95.75},{"s":"B3","t":80,"v":95.85},{"s":"B3","t":85,"v":95.95},{"s":"B3","t":90,"v":95.8},{"s":"B3","t":95,"v":95.75},{"s":"B3","t":100,"v":95.9},{"s":"B3","t":105,"v":96},{"s":"B3","t":110,"v":95.85},{"s":"B3","t":115,"v":95.95},{"s":"B3","t":120,"v":96.05},
{"s":"B4","t":0,"v":76},{"s":"B4","t":1,"v":88.6},{"s":"B4","t":2,"v":98.3},{"s":"B4","t":3,"v":99.6},{"s":"B4","t":4,"v":100.1},{"s":"B4","t":5,"v":100},{"s":"B4","t":6,"v":99.6},{"s":"B4","t":7,"v":99.2},{"s":"B4","t":8,"v":98.8},{"s":"B4","t":9,"v":98.45},{"s":"B4","t":10,"v":98.1},{"s":"B4","t":11,"v":97.8},{"s":"B4","t":12,"v":97.5},{"s":"B4","t":13,"v":97.25},{"s":"B4","t":14,"v":97.05},{"s":"B4","t":15,"v":96.9},{"s":"B4","t":16,"v":96.75},{"s":"B4","t":18,"v":96.6},{"s":"B4","t":20,"v":96.45},{"s":"B4","t":22,"v":96.3},{"s":"B4","t":25,"v":96.15},{"s":"B4","t":30,"v":96},{"s":"B4","t":35,"v":95.9},{"s":"B4","t":40,"v":95.85},{"s":"B4","t":45,"v":95.75},{"s":"B4","t":50,"v":95.8},{"s":"B4","t":55,"v":95.7},{"s":"B4","t":60,"v":95.8},{"s":"B4","t":65,"v":95.85},{"s":"B4","t":70,"v":95.7},{"s":"B4","t":75,"v":95.75},{"s":"B4","t":80,"v":95.9},{"s":"B4","t":85,"v":95.8},{"s":"B4","t":90,"v":95.7},{"s":"B4","t":95,"v":95.85},{"s":"B4","t":100,"v":95.95},{"s":"B4","t":105,"v":95.8},{"s":"B4","t":110,"v":95.9},{"s":"B4","t":115,"v":96},{"s":"B4","t":120,"v":95.95},
{"s":"B5","t":0,"v":74.9},{"s":"B5","t":1,"v":88},{"s":"B5","t":2,"v":98.2},{"s":"B5","t":3,"v":99.8},{"s":"B5","t":4,"v":100.4},{"s":"B5","t":5,"v":100.3},{"s":"B5","t":6,"v":99.9},{"s":"B5","t":7,"v":99.45},{"s":"B5","t":8,"v":99.05},{"s":"B5","t":9,"v":98.7},{"s":"B5","t":10,"v":98.3},{"s":"B5","t":11,"v":97.95},{"s":"B5","t":12,"v":97.65},{"s":"B5","t":13,"v":97.4},{"s":"B5","t":14,"v":97.2},{"s":"B5","t":15,"v":97.05},{"s":"B5","t":16,"v":96.9},{"s":"B5","t":18,"v":96.7},{"s":"B5","t":20,"v":96.55},{"s":"B5","t":22,"v":96.4},{"s":"B5","t":25,"v":96.25},{"s":"B5","t":30,"v":96.1},{"s":"B5","t":35,"v":96},{"s":"B5","t":40,"v":95.9},{"s":"B5","t":45,"v":95.9},{"s":"B5","t":50,"v":95.8},{"s":"B5","t":55,"v":95.85},{"s":"B5","t":60,"v":95.8},{"s":"B5","t":65,"v":95.7},{"s":"B5","t":70,"v":95.85},{"s":"B5","t":75,"v":95.9},{"s":"B5","t":80,"v":95.75},{"s":"B5","t":85,"v":95.85},{"s":"B5","t":90,"v":95.95},{"s":"B5","t":95,"v":95.8},{"s":"B5","t":100,"v":95.75},{"s":"B5","t":105,"v":95.95},{"s":"B5","t":110,"v":96},{"s":"B5","t":115,"v":95.85},{"s":"B5","t":120,"v":96},
{"s":"B6","t":0,"v":73.9},{"s":"B6","t":1,"v":87.4},{"s":"B6","t":2,"v":98.1},{"s":"B6","t":3,"v":99.5},{"s":"B6","t":4,"v":100},{"s":"B6","t":5,"v":99.9},{"s":"B6","t":6,"v":99.5},{"s":"B6","t":7,"v":99.1},{"s":"B6","t":8,"v":98.6},{"s":"B6","t":9,"v":98.2},{"s":"B6","t":10,"v":97.8},{"s":"B6","t":11,"v":97.45},{"s":"B6","t":12,"v":97.15},{"s":"B6","t":13,"v":96.95},{"s":"B6","t":14,"v":96.8},{"s":"B6","t":15,"v":96.65},{"s":"B6","t":16,"v":96.55},{"s":"B6","t":18,"v":96.4},{"s":"B6","t":20,"v":96.25},{"s":"B6","t":22,"v":96.15},{"s":"B6","t":25,"v":96.05},{"s":"B6","t":30,"v":95.95},{"s":"B6","t":35,"v":95.85},{"s":"B6","t":40,"v":95.8},{"s":"B6","t":45,"v":95.7},{"s":"B6","t":50,"v":95.75},{"s":"B6","t":55,"v":95.65},{"s":"B6","t":60,"v":95.75},{"s":"B6","t":65,"v":95.8},{"s":"B6","t":70,"v":95.65},{"s":"B6","t":75,"v":95.7},{"s":"B6","t":80,"v":95.85},{"s":"B6","t":85,"v":95.75},{"s":"B6","t":90,"v":95.65},{"s":"B6","t":95,"v":95.8},{"s":"B6","t":100,"v":95.9},{"s":"B6","t":105,"v":95.75},{"s":"B6","t":110,"v":95.85},{"s":"B6","t":115,"v":95.95},{"s":"B6","t":120,"v":96},
{"s":"C1","t":0,"v":76.5},{"s":"C1","t":1,"v":88.5},{"s":"C1","t":2,"v":98.3},{"s":"C1","t":3,"v":98.75},{"s":"C1","t":4,"v":98.6},{"s":"C1","t":5,"v":98.3},{"s":"C1","t":6,"v":98},{"s":"C1","t":7,"v":97.5},{"s":"C1","t":8,"v":97},{"s":"C1","t":9,"v":96.55},{"s":"C1","t":10,"v":96.25},{"s":"C1","t":11,"v":96.1},{"s":"C1","t":12,"v":96.05},{"s":"C1","t":13,"v":96},{"s":"C1","t":14,"v":95.98},{"s":"C1","t":15,"v":95.95},{"s":"C1","t":16,"v":95.93},{"s":"C1","t":18,"v":95.9},{"s":"C1","t":20,"v":95.88},{"s":"C1","t":22,"v":95.85},{"s":"C1","t":25,"v":95.83},{"s":"C1","t":30,"v":95.8},{"s":"C1","t":35,"v":95.75},{"s":"C1","t":40,"v":95.7},{"s":"C1","t":45,"v":95.68},{"s":"C1","t":50,"v":95.65},{"s":"C1","t":55,"v":95.7},{"s":"C1","t":60,"v":95.6},{"s":"C1","t":65,"v":95.55},{"s":"C1","t":70,"v":95.65},{"s":"C1","t":75,"v":95.7},{"s":"C1","t":80,"v":95.55},{"s":"C1","t":85,"v":95.6},{"s":"C1","t":90,"v":95.75},{"s":"C1","t":95,"v":95.65},{"s":"C1","t":100,"v":95.55},{"s":"C1","t":105,"v":95.7},{"s":"C1","t":110,"v":95.8},{"s":"C1","t":115,"v":95.7},{"s":"C1","t":120,"v":95.85}
]},
"layer":[
{"data":{"values":[{}]},
"mark":{"type":"rect","fill":null,"stroke":"#000000","strokeWidth":1.5,"clip":false},
"encoding":{
"x":{"datum":-21.15,"type":"quantitative","scale":{"domain":[-6,126],"nice":false,"zero":false}},
"x2":{"datum":300},
"y":{"datum":116.05,"type":"quantitative","scale":{"domain":[68.7,111.5],"nice":false,"zero":false}},
"y2":{"datum":20}}},
{"data":{"name":"curves"},
"mark":{"type":"line","stroke":"#505050","strokeWidth":1.3,"opacity":0.7,"interpolate":"monotone"},
"encoding":{
"x":{"field":"t","type":"quantitative","scale":{"domain":[-6,126],"nice":false,"zero":false},
"axis":{"values":[0,20,40,60,80,100,120],"title":"Time (hours)","titlePadding":4}},
"y":{"field":"v","type":"quantitative","scale":{"domain":[68.7,111.5],"nice":false,"zero":false},
"axis":{"values":[70,75,80,85,90,95,100,105,110],"title":"Durability (%)","titlePadding":5}},
"detail":{"field":"s"}}},
{"data":{"values":[{}]},
"mark":{"type":"rule","strokeDash":[6,3.5],"stroke":"#444444","strokeWidth":1.4},
"encoding":{"y":{"datum":95}}}
]
}
